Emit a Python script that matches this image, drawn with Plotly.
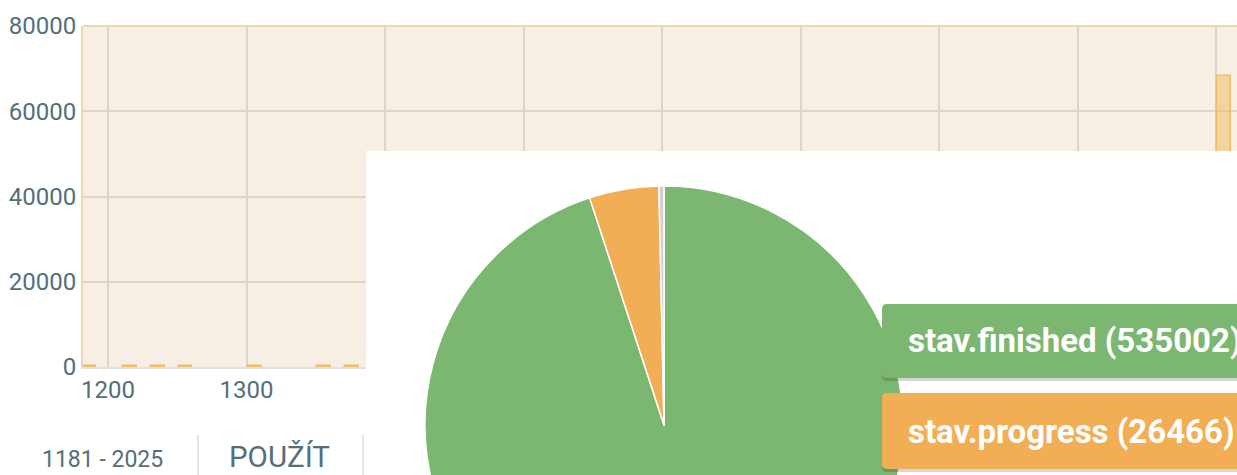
import plotly.graph_objects as go

# ---------------- data ----------------
bin_centers = [1186, 1216, 1236, 1256, 1306, 1356, 1376, 2006]   # 10-year bins starting 1181
bin_counts = [250, 300, 250, 300, 250, 300, 300, 68300]
y_ticks = [0, 20000, 40000, 60000, 80000]
x_ticks = [1200, 1300, 1400, 1500, 1600, 1700, 1800, 1900, 2000]

pie_labels = ["stav.finished", "stav.progress", "stav.other"]
pie_values = [535002, 26466, 1900]
pie_colors = ["#7cb772", "#f1ae55", "#d9cbd3"]

range_label = "1181 - 2025"
apply_label = "POUŽÍT"

# ---------------- geometry helpers ----------------
W, H = 1237, 700
def fx(px):
    return px / W
def fy(py):
    return 1 - py / H

PX_L, PX_SPLIT, PX_R = 83, 366, 1237
PY_TOP, PY_SPLIT, PY_ZERO = 26, 151, 367
YEAR_PER_PX = 100 / 138.5
X0 = 1200 - (108 - PX_L) * YEAR_PER_PX
XS = 1200 + (PX_SPLIT - 108) * YEAR_PER_PX
X1 = 1200 + (PX_R - 108) * YEAR_PER_PX
VAL_PER_PX = 80000 / (PY_ZERO - PY_TOP)
Y_SPLIT = (PY_ZERO - PY_SPLIT) * VAL_PER_PX

BG = "#f7efe4"
GRID = "#dad6cb"
TICK = "#546e7a"

bar_fill = "rgba(242,190,100,0.55)"
bar_line = "rgba(240,182,88,0.85)"

fig = go.Figure()
for xa, ya in (("x", "y"), ("x2", "y2")):
    fig.add_trace(go.Bar(
        x=bin_centers, y=bin_counts, width=10,
        marker=dict(color=bar_fill, line=dict(color=bar_line, width=1.5)),
        xaxis=xa, yaxis=ya, showlegend=False, hoverinfo="x+y",
    ))

cx, cy, r = 664, 425, 239
fig.add_trace(go.Pie(
    labels=pie_labels, values=pie_values, sort=False,
    direction="clockwise", rotation=0,
    marker=dict(colors=pie_colors, line=dict(color="white", width=1.5)),
    textinfo="none", showlegend=False,
    domain=dict(x=[fx(cx - r), fx(cx + r)], y=[fy(cy + r), fy(cy - r)]),
))

axis_font = dict(family="Roboto", size=24, color=TICK)
common = dict(showgrid=True, gridcolor=GRID, gridwidth=1.5, ticks="",
              zeroline=False, automargin=False)
fig.update_layout(
    width=W, height=H, margin=dict(l=0, r=0, t=0, b=0, pad=0, autoexpand=False),
    paper_bgcolor="white", plot_bgcolor=BG, bargap=0,
    font=dict(family="Roboto"),
    xaxis=dict(domain=[fx(PX_L), fx(PX_SPLIT)], range=[X0, XS],
               tickvals=x_ticks, ticktext=[str(v) for v in x_ticks],
               showline=True, linecolor="#dfe2e2", linewidth=2,
               tickfont=axis_font, ticklabelstandoff=0, anchor="y", **common),
    yaxis=dict(domain=[fy(PY_ZERO), fy(PY_TOP)], range=[0, 80000],
               tickvals=y_ticks, ticktext=[str(v) for v in y_ticks],
               showline=True, linecolor="#f2d6b0", linewidth=2,
               tickfont=axis_font, ticklabelstandoff=0, anchor="x", **common),
    xaxis2=dict(domain=[fx(PX_SPLIT), 1], range=[XS, X1],
                tickvals=x_ticks, showticklabels=False, showline=False,
                anchor="y2", **common),
    yaxis2=dict(domain=[fy(PY_SPLIT), fy(PY_TOP)], range=[Y_SPLIT, 80000],
                tickvals=y_ticks, showticklabels=False, showline=False,
                anchor="x2", **common),
)

shapes = []
# top border of the chart area
shapes.append(dict(type="line", xref="paper", yref="paper",
                   x0=fx(PX_L), x1=1, y0=fy(PY_TOP), y1=fy(PY_TOP),
                   line=dict(color="#f2d6b0", width=2), layer="above"))
# separators under the chart
for sx in (198, 363):
    shapes.append(dict(type="line", xref="paper", yref="paper",
                       x0=fx(sx), x1=fx(sx), y0=fy(435), y1=fy(480),
                       line=dict(color="#d5dde0", width=1.5), layer="above"))

def rounded_rect(x0, y0, x1, y1, rad):
    # pixel coordinates -> paper path with rounded left corners
    p = [f"M {fx(x0 + rad)} {fy(y0)}", f"L {fx(x1)} {fy(y0)}", f"L {fx(x1)} {fy(y1)}",
         f"L {fx(x0 + rad)} {fy(y1)}", f"Q {fx(x0)} {fy(y1)} {fx(x0)} {fy(y1 - rad)}",
         f"L {fx(x0)} {fy(y0 + rad)}", f"Q {fx(x0)} {fy(y0)} {fx(x0 + rad)} {fy(y0)}", "Z"]
    return " ".join(p)

buttons = [(304, 378), (393, 469)]
annotations = []
for i, (t, b) in enumerate(buttons):
    shapes.append(dict(type="path", xref="paper", yref="paper",
                       path=rounded_rect(882, t + 2, 1260, b + 3, 5),
                       fillcolor="rgba(0,0,0,0.16)", line=dict(width=0), layer="above"))
    shapes.append(dict(type="path", xref="paper", yref="paper",
                       path=rounded_rect(882, t, 1260, b, 5),
                       fillcolor=pie_colors[i], line=dict(width=0), layer="above"))
    annotations.append(dict(xref="paper", yref="paper", x=fx(906), y=fy((t + b) / 2),
                            xanchor="left", yanchor="middle", showarrow=False,
                            text=f"{pie_labels[i]} ({pie_values[i]})",
                            font=dict(family="Roboto", size=33, color="white", weight="bold")))

annotations.append(dict(xref="paper", yref="paper", x=fx(40), y=fy(459),
                        xanchor="left", yanchor="middle", showarrow=False,
                        text=range_label, font=dict(family="Roboto", size=23, color=TICK)))
annotations.append(dict(xref="paper", yref="paper", x=fx(227), y=fy(457),
                        xanchor="left", yanchor="middle", showarrow=False,
                        text=apply_label, font=dict(family="Roboto", size=29.5, color=TICK)))

fig.update_layout(shapes=shapes, annotations=annotations)

fig.write_html("out.html", config={"displayModeBar": False},
               post_script="document.body.style.margin='0';document.body.style.overflow='hidden';")
